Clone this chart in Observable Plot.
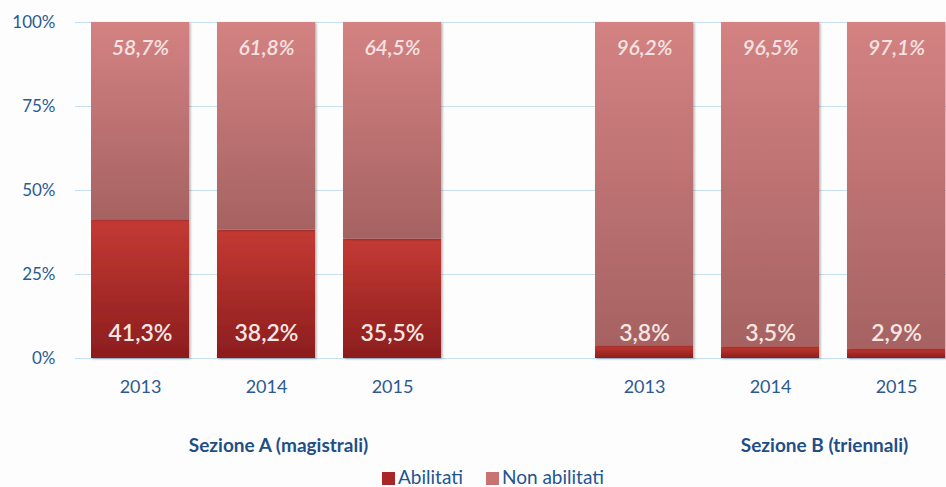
<!DOCTYPE html>
<html><head><meta charset="utf-8">
<script src="https://cdn.jsdelivr.net/npm/d3@7"></script>
<script src="https://cdn.jsdelivr.net/npm/@observablehq/plot@0.6"></script>
<style>
body{margin:0;background:#fdfdfe;width:946px;height:487px;overflow:hidden;font-family:Lato,"Open Sans",sans-serif}
#legend{display:flex;justify-content:center;align-items:center;gap:23px;font-size:19px;color:#1f5591;height:30px;margin-left:40px}
#legend span.sw{display:inline-block;width:13px;height:13px;margin-right:3px;vertical-align:-1px}
</style></head>
<body>
<div id="chart"></div>
<div id="legend"><div><span class="sw" style="background:#a8282a"></span>Abilitati</div><div><span class="sw" style="background:#c87272"></span>Non abilitati</div></div>
<script>
const categories = ["A-2013","A-2014","A-2015","gap","B-2013","B-2014","B-2015"];
const years = ["2013","2014","2015","","2013","2014","2015"];
const abilitati = [41.3, 38.2, 35.5, null, 3.8, 3.5, 2.9];
const nonAbilitati = [58.7, 61.8, 64.5, null, 96.2, 96.5, 97.1];
const yTicks = [0, 25, 50, 75, 100];
const groupA = [{cat: "A-2014", label: "Sezione A (magistrali)"}];
const groupB = [{cat: "B-2014", label: "Sezione B (triennali)"}];

const rows = categories.map((c, i) => ({cat: c, year: years[i], ab: abilitati[i], non: nonAbilitati[i]}))
  .filter(d => d.ab != null);
const fmt = v => v.toFixed(1).replace(".", ",") + "%";
const H = 461;

const plot = Plot.plot({
  width: 946, height: H,
  marginLeft: 75, marginRight: 0, marginTop: 22, marginBottom: H - 358,
  style: {background: "transparent", fontFamily: "Lato, 'Open Sans', sans-serif"},
  x: {domain: categories, range: [74.1, 962.1], paddingInner: 0.2235, paddingOuter: 0.11175, align: 0.5},
  y: {domain: [0, 100], ticks: yTicks, label: null},
  marks: [
    Plot.gridY(yTicks, {stroke: "#c9e0f2", strokeOpacity: 1, strokeWidth: 1}),
    Plot.barY(rows, {x: "cat", y1: 0, y2: "ab", fill: "url(#gAb)", inset: 0}),
    Plot.barY(rows, {x: "cat", y1: "ab", y2: 100, fill: "url(#gNon)", inset: 0}),
    Plot.axisY(yTicks, {tickSize: 0, tickPadding: 20, tickFormat: d => d + "%", fontSize: 17, fill: "#2a5a90", label: null}),
    Plot.axisX(rows.map(d => d.cat), {tickSize: 0, tickPadding: 22, tickFormat: c => years[categories.indexOf(c)], fontSize: 18, fill: "#2a5a90", label: null}),
    Plot.text(rows, {x: "cat", y: 0, text: d => fmt(d.ab), dy: -25, fontSize: 23, fill: "#f6e6e2", fontWeight: "600"}),
    Plot.text(rows, {x: "cat", y: 100, text: d => fmt(d.non), dy: 26, fontSize: 21, fontStyle: "italic", fontWeight: "600", fill: "#f4e2e2"}),
    Plot.text(groupA, {x: "cat", y: 0, text: "label", dx: 12, dy: 87, fontSize: 19, fontWeight: "bold", fill: "#1f4f85"}),
    Plot.text(groupB, {x: "cat", y: 0, text: "label", dx: 54, dy: 87, fontSize: 19, fontWeight: "bold", fill: "#1f4f85"})
  ]
});

const svg = d3.select(plot);
const defs = svg.insert("defs", ":first-child");
const g1 = defs.append("linearGradient").attr("id", "gAb").attr("x1", 0).attr("y1", 0).attr("x2", 0).attr("y2", 1);
g1.append("stop").attr("offset", "0%").attr("stop-color", "#c43a33");
g1.append("stop").attr("offset", "100%").attr("stop-color", "#8c1d1e");
const g2 = defs.append("linearGradient").attr("id", "gNon").attr("x1", 0).attr("y1", 0).attr("x2", 0).attr("y2", 1);
g2.append("stop").attr("offset", "0%").attr("stop-color", "#d48282");
g2.append("stop").attr("offset", "100%").attr("stop-color", "#a66262");
const f = defs.append("filter").attr("id", "sh").attr("x", "-10%").attr("y", "-10%").attr("width", "130%").attr("height", "130%");
f.append("feDropShadow").attr("dx", 1.5).attr("dy", 1).attr("stdDeviation", 1.2).attr("flood-opacity", 0.3);
svg.selectAll("g[aria-label='bar']").attr("filter", "url(#sh)");
document.getElementById("chart").appendChild(plot);
</script>
</body></html>
